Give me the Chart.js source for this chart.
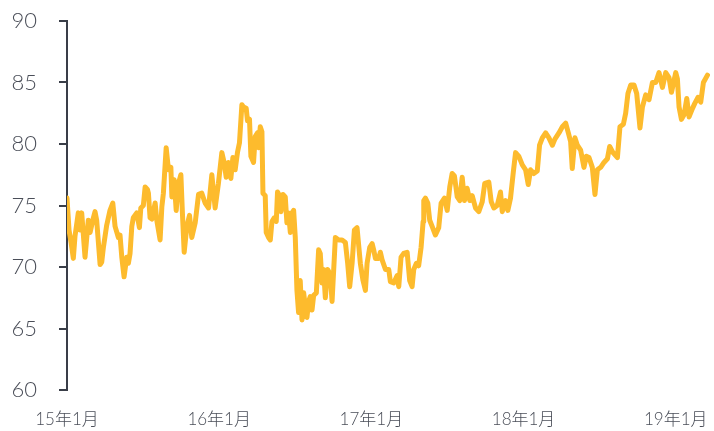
<!DOCTYPE html>
<html>
<head>
<meta charset="utf-8">
<script src="https://cdn.jsdelivr.net/npm/chart.js@4.4.1/dist/chart.umd.min.js"></script>
<style>
  html, body { margin: 0; padding: 0; background: #fff; }
  #wrap { width: 714px; height: 431px; }
</style>
</head>
<body>
<div id="wrap"><canvas id="priceChart" width="714" height="431"></canvas></div>
<script>
// months since Jan 2015
const months = [
  0, 0.16, 0.32, 0.50, 0.63, 0.89, 1.03, 1.16, 1.42, 1.68, 1.82, 2.08, 2.21, 2.34, 2.61, 2.74, 2.87, 3.13, 3.39, 3.61,
  3.79, 4.05, 4.18, 4.32, 4.50, 4.71, 4.84, 4.97, 5.11, 5.23, 5.50, 5.71, 5.82, 6.02, 6.16, 6.34, 6.42, 6.55, 6.69, 6.95,
  7.08, 7.34, 7.48, 7.60, 7.82, 8.00, 8.19, 8.27, 8.45, 8.61, 8.79, 8.98, 9.10, 9.24, 9.45, 9.66, 9.84, 10.11, 10.37, 10.63,
  10.89, 11.16, 11.42, 11.68, 11.94, 12.21, 12.39, 12.55, 12.73, 12.92, 13.08, 13.26, 13.44, 13.60, 13.79, 13.92, 14.13, 14.23, 14.39, 14.50,
  14.71, 14.84, 15.02, 15.10, 15.24, 15.37, 15.45, 15.63, 15.71, 15.89, 16.03, 16.16, 16.34, 16.50, 16.60, 16.76, 16.87, 17.03, 17.21, 17.34,
  17.47, 17.61, 17.74, 17.87, 18.00, 18.13, 18.26, 18.39, 18.53, 18.66, 18.79, 18.92, 19.05, 19.18, 19.32, 19.45, 19.66, 19.84, 19.97, 20.11,
  20.23, 20.37, 20.55, 20.76, 20.90, 21.16, 21.42, 21.69, 21.95, 22.13, 22.29, 22.48, 22.66, 22.87, 23.13, 23.34, 23.53, 23.66, 23.87, 24.06,
  24.18, 24.32, 24.58, 24.71, 24.84, 25.11, 25.37, 25.50, 25.76, 26.03, 26.16, 26.34, 26.55, 26.82, 27.02, 27.21, 27.34, 27.55, 27.73, 27.92,
  28.08, 28.13, 28.26, 28.45, 28.60, 28.79, 29.05, 29.31, 29.50, 29.76, 29.98, 30.18, 30.37, 30.55, 30.77, 30.97, 31.16, 31.34, 31.55, 31.76,
  31.95, 32.21, 32.47, 32.74, 32.94, 33.26, 33.45, 33.66, 33.92, 34.18, 34.32, 34.58, 34.76, 34.97, 35.19, 35.37, 35.63, 35.90, 36.16, 36.37,
  36.55, 36.81, 37.08, 37.26, 37.48, 37.74, 38.00, 38.27, 38.47, 38.79, 39.06, 39.32, 39.53, 39.71, 39.84, 40.05, 40.24, 40.50, 40.76, 40.95,
  41.16, 41.42, 41.63, 41.82, 42.08, 42.34, 42.61, 42.79, 43.05, 43.40, 43.60, 43.87, 44.05, 44.23, 44.45, 44.71, 44.92, 45.18, 45.37, 45.63,
  45.89, 46.16, 46.42, 46.68, 46.95, 47.21, 47.47, 47.66, 48.00, 48.13, 48.26, 48.45, 48.66, 48.87, 49.05, 49.32, 49.50, 49.76, 49.97, 50.18,
  50.50
];

const prices = [
  75.6, 73.0, 72.0, 70.7, 72.5, 74.4, 73.0, 74.4, 70.8, 73.8, 72.8, 74.0, 74.5, 73.8, 70.2, 70.4, 71.6, 73.4, 74.6, 75.2,
  73.3, 72.4, 72.6, 70.8, 69.2, 70.8, 70.3, 71.1, 73.3, 74.0, 74.4, 73.2, 74.8, 75.0, 76.5, 76.3, 76.0, 74.0, 73.9, 75.2,
  73.8, 72.2, 74.9, 76.0, 79.7, 77.9, 78.1, 75.7, 77.1, 74.6, 76.8, 77.5, 74.4, 71.2, 73.3, 74.2, 72.4, 73.6, 75.9, 76.0,
  75.2, 74.8, 77.5, 74.8, 76.8, 79.3, 78.5, 77.3, 78.5, 77.2, 78.9, 77.9, 79.3, 80.1, 83.2, 83.0, 82.9, 81.9, 82.0, 79.0,
  78.5, 80.6, 80.9, 79.7, 81.4, 81.0, 76.0, 75.8, 72.8, 72.4, 72.2, 73.7, 74.0, 73.7, 76.1, 75.8, 74.5, 75.9, 75.7, 73.6,
  74.4, 72.8, 74.4, 74.6, 72.4, 68.1, 66.3, 68.9, 65.7, 67.9, 66.8, 65.9, 67.2, 67.6, 66.5, 67.7, 67.9, 71.4, 71.1, 68.7,
  69.8, 67.5, 69.8, 69.4, 67.2, 72.4, 72.2, 72.2, 72.0, 70.3, 68.4, 70.3, 73.0, 73.2, 70.3, 68.9, 68.1, 70.3, 71.6, 71.9,
  71.4, 70.7, 70.7, 71.2, 70.6, 69.8, 69.8, 68.8, 68.7, 69.3, 68.4, 70.8, 71.1, 71.2, 68.9, 68.4, 69.8, 70.3, 70.1, 71.6,
  73.7, 75.4, 75.6, 75.2, 73.8, 73.3, 72.6, 73.2, 75.2, 75.6, 74.6, 76.5, 77.6, 77.4, 75.7, 75.4, 77.3, 75.4, 76.4, 75.4,
  75.8, 74.8, 74.5, 75.3, 76.8, 76.9, 75.3, 74.8, 75.0, 76.1, 74.5, 75.4, 74.6, 75.6, 77.7, 79.3, 79.0, 78.3, 77.9, 76.7,
  77.9, 77.6, 77.8, 79.9, 80.5, 80.9, 80.5, 79.9, 80.4, 80.9, 81.4, 81.7, 80.9, 80.2, 78.0, 80.5, 79.9, 79.5, 78.1, 79.0,
  78.9, 78.1, 75.9, 77.9, 78.1, 78.5, 78.8, 79.8, 79.3, 78.9, 81.4, 81.6, 82.5, 84.1, 84.8, 84.8, 84.1, 81.3, 83.0, 84.0,
  83.6, 85.0, 85.0, 85.8, 84.6, 85.8, 85.4, 84.2, 85.8, 85.3, 83.0, 82.0, 82.4, 83.7, 82.2, 82.9, 83.3, 83.8, 83.4, 85.0,
  85.6
];

// x tick positions (months) and their labels
const tickMonths = [0, 12, 24, 36, 48];
const tickLabels = ['15年1月', '16年1月', '17年1月', '18年1月', '19年1月'];
const yTicks = [60, 65, 70, 75, 80, 85, 90];

const axisColor = '#3a3e48';
const labelColor = '#4a4e58';
const points = months.map((m, i) => ({ x: m, y: prices[i] }));

new Chart(document.getElementById('priceChart'), {
    type: 'line',
    data: {
        datasets: [{
            data: points,
            borderColor: '#fdbb2d',
            borderWidth: 5,
            borderJoinStyle: 'round',
            borderCapStyle: 'round',
            pointRadius: 0,
            tension: 0,
            fill: false
        }]
    },
    options: {
        responsive: false,
        animation: false,
        layout: { padding: { top: 21, right: 4, left: 0, bottom: 0 } },
        plugins: { legend: { display: false }, tooltip: { enabled: false } },
        scales: {
            x: {
                type: 'linear',
                min: 0,
                max: 50.7,
                afterBuildTicks: scale => {
                    scale.ticks = tickMonths.map(v => ({ value: v }));
                },
                // labels may overhang the plot edges
                afterFit: scale => {
                    scale.height = 41;
                    scale.paddingLeft = 0;
                    scale.paddingRight = 0;
                },
                grid: { display: false, drawTicks: false },
                border: { display: false },
                ticks: {
                    autoSkip: false,
                    maxRotation: 0,
                    padding: 19,
                    color: labelColor,
                    font: { family: 'Lato, "Noto Sans CJK SC", sans-serif', size: 17, weight: '300' },
                    callback: value => tickLabels[tickMonths.indexOf(value)]
                }
            },
            y: {
                min: 60,
                max: 90,
                afterBuildTicks: scale => {
                    scale.ticks = yTicks.map(v => ({ value: v }));
                },
                // fixed axis width; label padding is not wanted above/below the axis
                afterFit: scale => {
                    scale.width = 67;
                    scale.paddingTop = 0;
                    scale.paddingBottom = 0;
                },
                grid: {
                    drawOnChartArea: false,
                    drawTicks: true,
                    tickLength: 8,
                    color: axisColor,
                    lineWidth: 2
                },
                border: { display: true, color: axisColor, width: 2 },
                ticks: {
                    padding: 22,
                    color: labelColor,
                    font: { family: 'Lato, "Noto Sans CJK SC", sans-serif', size: 22, weight: '300' }
                }
            }
        }
    }
});
</script>
</body>
</html>
